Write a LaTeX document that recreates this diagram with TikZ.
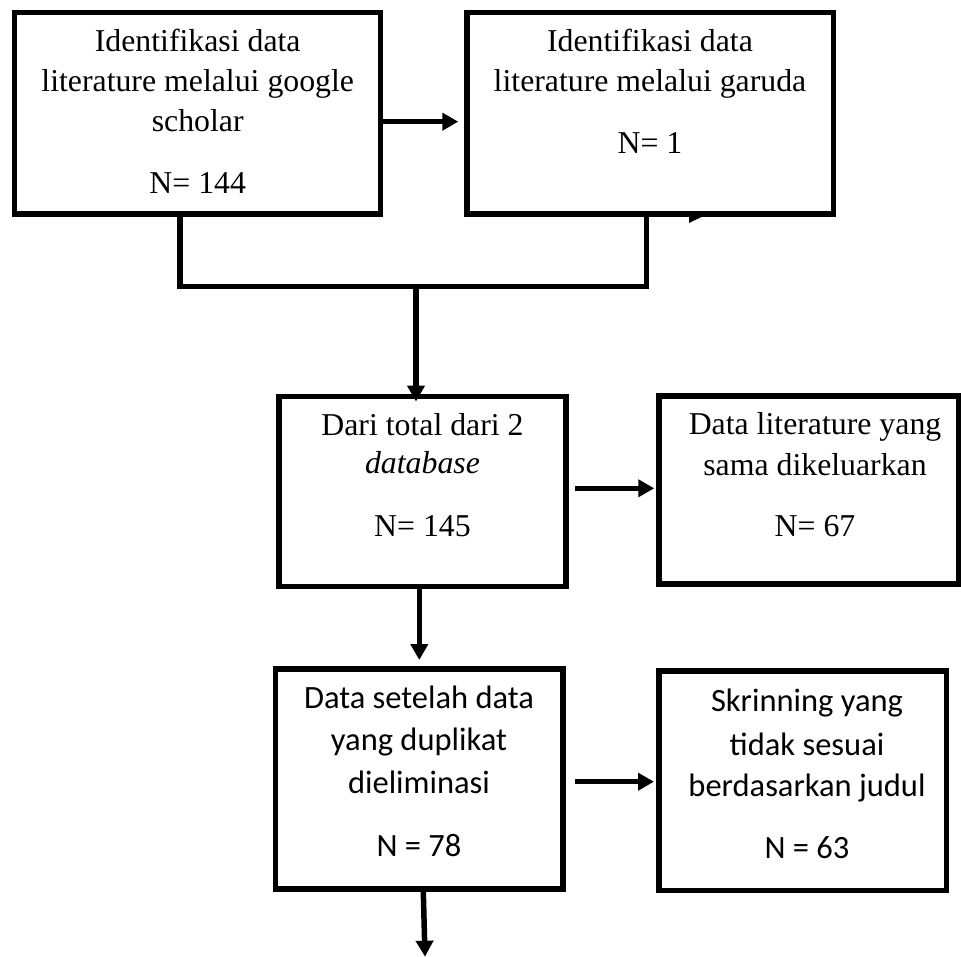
\documentclass[tikz,border=0pt]{standalone}
\usepackage{fontspec}
\setmainfont{Liberation Serif}
\newfontfamily\carlitofont{Carlito}
\usetikzlibrary{arrows.meta}
\begin{document}
\begin{tikzpicture}[x=1pt,y=-1pt,
  box/.style={draw,rectangle,line width=5.5pt,inner sep=0pt},
  con/.style={line width=5.5pt,line join=miter},
  arr/.style={line width=5.5pt,-{Triangle[length=16pt,width=17pt]}},
  ser/.style={font=\fontsize{31.8}{38}\selectfont,anchor=base,inner sep=0pt},
  san/.style={font=\carlitofont\fontsize{32.5}{40}\selectfont,anchor=base,inner sep=0pt}]
\useasboundingbox (0,0) rectangle (961,957);
% boxes
\node[box,minimum width=366pt,minimum height=201.7pt] (b1) at (197.7,113.2) {};
\node[box,minimum width=366.5pt,minimum height=201.7pt] (b2) at (650,113.2) {};
\node[box,minimum width=287pt,minimum height=190pt] (b3) at (422.5,491.3) {};
\node[box,minimum width=300pt,minimum height=188pt] (b4) at (809,490) {};
\node[box,minimum width=287.5pt,minimum height=220pt] (b5) at (419.3,779) {};
\node[box,minimum width=287.5pt,minimum height=219.3pt] (b6) at (802.8,780.7) {};
% texts
\node[ser] (t1a) at (197.7,51.7) {Identifikasi data};
\node[ser] (t1b) at (197.7,91.7) {literature melalui google};
\node[ser] (t1c) at (197.7,131.7) {scholar};
\node[ser] (t1d) at (197.7,193.3) {N= 144};
\node[ser] (t2a) at (650,51.7) {Identifikasi data};
\node[ser] (t2b) at (650,91.7) {literature melalui garuda};
\node[ser] (t2c) at (650,153.3) {N= 1};
\node[ser] (t3a) at (422.5,435) {Dari total dari 2};
\node[ser] (t3b) at (422.5,473.3) {\textit{database}};
\node[ser] (t3c) at (422.5,536.7) {N= 145};
\node[ser] (t4a) at (815,434) {Data literature yang};
\node[ser] (t4b) at (815,475) {sama dikeluarkan};
\node[ser] (t4c) at (815,536.7) {N= 67};
\node[san] (t5a) at (419,708.3) {Data setelah data};
\node[san] (t5b) at (419,750.7) {yang duplikat};
\node[san] (t5c) at (419,793.3) {dieliminasi};
\node[san] (t5d) at (419,856.7) {N = 78};
\node[san] (t6a) at (807,711.7) {Skrinning yang};
\node[san] (t6b) at (807,755) {tidak sesuai};
\node[san] (t6c) at (807,796.7) {berdasarkan judul};
\node[san] (t6d) at (807,858.3) {N = 63};
% connectors
\draw[arr,shorten >=5.7pt] (b1.east |- 0,121.7) -- (b2.west |- 0,121.7);
\coordinate (m1) at (180,286.7);
\coordinate (m2) at (646.7,286.7);
\coordinate (mj) at (416,286.7);
\draw[con] (b1.south -| m1) -- (m1) -- (m2) -- (b2.south -| m2);
\draw[arr,shorten >=-8pt] (mj) -- (mj |- b3.north);
\draw[arr,shorten <=6.25pt,shorten >=2pt] (b3.east |- 0,488.3) -- (b4.west |- 0,488.3);
\draw[arr,shorten >=6.25pt] (b3.south -| 419.3,0) -- (b5.north -| 419.3,0);
\draw[arr,shorten <=9.25pt,shorten >=2.3pt] (b5.east |- 0,781.7) -- (b6.west |- 0,781.7);
\coordinate (endp) at (425,956.7);
\draw[arr] (b5.south -| 423.3,0) -- (endp);
% small stray arrow fragment under the garuda box
\fill (689,216.7) -- (702,216.7) -- (689,223) -- cycle;
\end{tikzpicture}
\end{document}
